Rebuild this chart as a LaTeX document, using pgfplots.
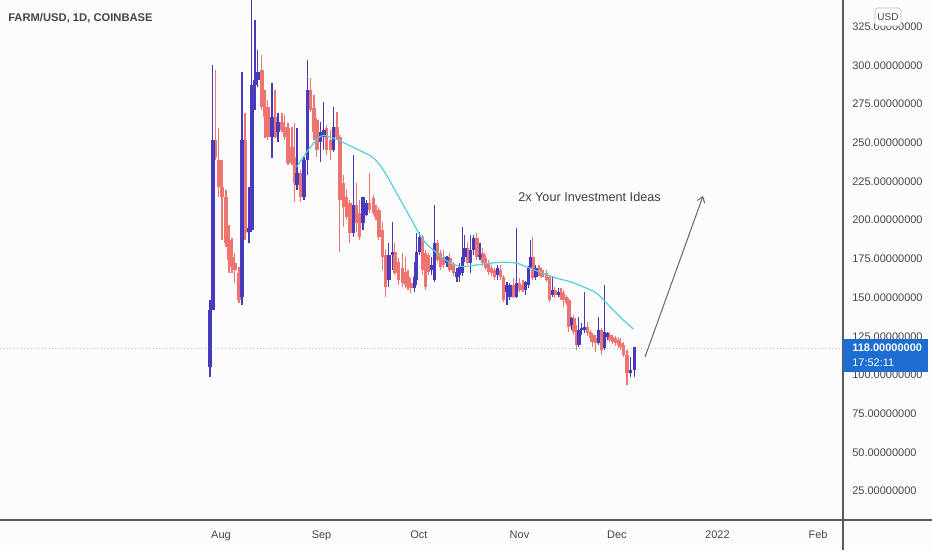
\documentclass[border=0pt]{standalone}
\usepackage{fontspec}
\setmainfont{Liberation Sans}
\usepackage{pgfplots}
\pgfplotsset{compat=1.18}
\usepackage{pgfplotstable}
\usetikzlibrary{arrows.meta}
\definecolor{upc}{RGB}{72,58,190}
\definecolor{dnc}{RGB}{238,116,112}
\definecolor{mac}{RGB}{86,206,220}
\definecolor{txt}{RGB}{70,70,70}
\definecolor{axc}{RGB}{90,90,90}
\definecolor{bg}{RGB}{252,252,252}
\definecolor{pricebox}{RGB}{30,110,210}

\pgfplotstableread{
d o h l c
-3.39 105.2 148.5 98.7 142.0
-2.47 142.0 300.3 142.0 251.8
6.47 150.4 295.7 145.2 251.8
8.63 192.4 221.4 185.3 195.0
9.55 193.7 342.0 192.4 287.3
10.48 287.3 329.3 271.2 290.6
11.40 290.6 310.0 286.0 295.7
15.72 253.7 288.6 240.2 266.7
17.57 257.0 269.3 250.5 263.4
23.42 222.7 259.6 219.5 230.5
25.58 215.0 240.8 213.0 238.9
26.72 238.9 303.5 229.2 284.1
30.72 250.5 263.4 237.6 257.0
31.74 253.7 276.4 245.4 258.3
34.73 245.4 273.1 244.1 260.2
40.77 191.7 242.1 189.1 209.8
43.76 198.2 214.3 193.7 215.0
44.90 203.4 213.0 202.8 211.1
51.77 161.4 185.3 156.8 177.5
52.79 177.5 198.8 167.8 179.5
59.57 156.2 173.0 153.6 163.3
60.31 161.4 191.7 158.1 179.5
61.11 179.5 192.4 177.5 189.1
65.02 167.8 176.2 164.6 171.1
65.85 161.4 209.8 160.1 185.3
69.65 172.4 176.8 169.8 176.2
72.73 163.3 169.1 160.1 166.5
73.50 164.6 172.4 160.1 169.8
74.36 165.9 195.6 164.0 176.2
75.19 176.2 190.4 173.0 182.0
76.95 172.4 190.4 165.9 180.8
77.87 180.8 190.4 177.5 188.5
79.82 176.2 185.3 174.3 177.5
85.15 164.6 171.1 161.4 169.1
88.14 153.6 160.1 145.2 158.1
89.06 150.4 159.4 148.5 158.1
91.12 150.4 195.0 149.7 159.4
93.90 154.9 160.5 151.7 160.1
94.70 158.1 170.4 156.2 169.8
95.32 169.8 187.2 169.1 176.2
97.07 163.3 171.1 161.4 169.1
102.10 151.7 163.3 150.4 154.9
104.07 151.7 156.2 150.4 153.6
108.07 132.3 137.5 129.1 136.8
110.32 119.4 137.5 118.1 129.1
111.25 129.1 133.6 125.8 130.4
112.11 129.1 153.6 127.1 131.0
116.33 120.7 137.5 119.4 129.1
118.12 117.4 158.1 116.1 127.8
119.05 124.5 127.8 122.6 127.1
126.25 101.3 111.6 98.7 103.2
127.49 103.2 116.1 98.7 118.0
}\uptab

\pgfplotstableread{
d o h l c
-1.76 251.8 297.0 238.9 240.8
-0.62 238.9 259.6 215.0 221.4
0.31 221.4 238.9 187.2 215.0
1.54 215.0 219.5 182.7 185.3
2.47 187.2 196.9 165.9 174.3
3.39 176.0 188.5 165.9 169.8
4.31 172.4 178.8 159.4 167.8
5.55 165.9 169.8 146.5 148.5
7.40 251.8 269.3 187.2 191.7
12.63 297.0 306.7 271.2 273.1
13.56 273.1 284.1 253.1 266.7
14.48 273.1 277.7 251.8 253.7
16.64 266.7 284.1 253.1 253.7
18.80 263.4 269.3 257.0 258.3
19.72 260.2 268.0 251.8 253.7
20.65 259.6 262.8 235.7 237.0
21.88 247.3 260.2 235.7 237.0
22.65 240.8 262.8 211.8 224.0
24.56 230.5 232.4 211.8 215.0
27.64 284.1 291.9 269.9 271.2
28.66 272.5 280.9 251.8 257.0
29.58 264.7 266.0 240.8 245.4
32.57 259.6 261.5 242.1 245.4
33.81 251.8 258.3 238.9 245.4
35.75 260.2 269.9 251.8 253.7
36.67 253.7 255.0 179.5 213.0
37.69 224.0 229.2 195.6 208.5
38.74 215.0 219.5 200.1 202.1
39.75 211.1 213.0 185.3 191.7
41.70 209.8 224.0 192.4 198.2
42.74 204.7 213.0 187.2 189.1
45.82 211.1 230.5 204.7 206.6
46.93 214.3 216.3 203.4 204.7
47.77 206.6 209.8 200.1 202.1
48.69 206.6 208.5 187.2 189.1
49.83 193.7 198.8 167.8 176.2
50.76 177.5 180.8 150.4 156.8
53.62 179.5 185.3 164.6 165.9
54.64 173.0 175.6 158.1 161.4
55.87 169.1 178.8 156.8 159.4
56.80 166.5 176.2 156.2 158.1
57.63 163.3 167.8 154.9 156.8
58.55 159.4 162.7 153.0 156.2
62.03 189.1 190.4 164.6 167.8
62.96 178.8 180.8 154.9 156.8
63.88 177.5 178.8 164.6 166.5
66.78 185.3 187.2 173.0 174.3
67.70 178.8 180.8 167.8 169.8
68.63 176.2 180.8 169.1 171.1
70.57 175.6 178.8 166.5 167.8
71.59 171.1 173.0 164.0 165.9
76.02 182.0 185.9 171.1 172.4
78.89 188.5 191.7 174.3 176.2
80.74 178.8 182.0 170.4 172.4
81.57 175.6 177.5 167.8 169.1
82.50 172.4 174.3 164.6 166.5
83.42 169.1 171.1 164.0 165.9
84.22 167.8 169.1 161.4 163.3
86.07 167.8 171.1 161.4 163.3
87.00 163.3 164.6 147.2 148.5
90.08 158.1 162.7 149.7 150.4
92.05 159.4 162.7 153.6 154.9
93.07 158.1 161.4 153.6 154.9
96.15 176.2 189.1 161.4 162.7
98.00 169.1 171.1 164.0 165.9
98.92 167.8 169.8 162.7 163.3
100.31 165.9 167.8 160.1 161.4
101.17 163.3 164.6 147.2 148.5
102.93 154.9 156.8 149.7 151.7
104.78 153.6 156.2 148.5 150.4
105.61 153.0 154.9 143.9 148.5
106.41 150.4 151.7 145.2 146.5
107.24 148.5 149.7 127.8 131.0
108.78 136.8 138.8 125.8 127.8
109.49 127.8 132.3 116.1 119.4
113.00 131.0 134.2 125.2 127.1
113.81 127.8 129.1 121.3 123.9
114.64 125.8 127.1 118.1 121.3
115.47 123.9 125.8 114.9 120.7
117.20 129.1 130.4 112.9 116.1
119.88 125.8 127.8 121.3 122.6
120.71 124.5 125.8 120.0 121.3
121.57 123.9 125.2 118.7 120.7
122.43 122.6 124.5 117.4 119.4
123.27 120.7 123.9 116.1 118.1
124.10 119.4 121.3 111.6 112.9
125.12 112.9 116.1 93.5 101.3
}\dntab

\pgfplotsset{
  candle/.style={only marks, mark=text, text mark={}, mark options={draw=none, fill=none},
    error bars/.cd, y dir=minus, y explicit, error mark=none,
    error bar style={line width=#1}},
}

\begin{document}
\begin{tikzpicture}
\path[use as bounding box, fill=bg] (0pt,-22.5pt) rectangle (699pt,390pt);
\begin{axis}[
  at={(0pt,0pt)}, anchor=south west,
  scale only axis, width=632.25pt, height=390pt,
  xmin=-68.1, xmax=191.7, ymin=6.33, ymax=342.25,
  axis line style={draw=none},
  major tick length=0pt,
  xtick={0,31,61,92,122,153,184},
  xticklabels={Aug,Sep,Oct,Nov,Dec,2022,Feb},
  xticklabel style={font=\fontsize{8.25}{10}\selectfont, text=txt, anchor=base, inner sep=0pt, yshift=-13.5pt},
  ytick={25,50,75,100,125,150,175,200,225,250,275,300,325},
  yticklabels={25.00000000,50.00000000,75.00000000,100.00000000,125.00000000,150.00000000,175.00000000,200.00000000,225.00000000,250.00000000,275.00000000,300.00000000,325.00000000},
  yticklabel pos=right,
  yticklabel style={font=\fontsize{8.25}{10}\selectfont, text=txt, anchor=west, inner sep=0pt, xshift=6.75pt},
  clip=true,
]
\draw[dotted, color=black!25, line width=0.6pt] (axis cs:-68.1,117.5) -- (axis cs:191.7,117.5);
% wicks
\addplot[dnc, candle=0.8pt]
  table[x=d, y=h, y error minus expr=\thisrow{h}-\thisrow{l}] {\dntab};
\addplot[upc, candle=0.8pt]
  table[x=d, y=h, y error minus expr=\thisrow{h}-\thisrow{l}] {\uptab};
% bodies
\addplot[dnc, candle=2.4pt]
  table[x=d, y=o, y error minus expr=\thisrow{o}-\thisrow{c}] {\dntab};
\addplot[upc, candle=2.4pt]
  table[x=d, y=c, y error minus expr=\thisrow{c}-\thisrow{o}] {\uptab};
% moving average
\addplot[mac, line width=0.9pt, mark=none, smooth] coordinates {
(23.3,234.3) (26.9,245.4) (30.5,254.0) (32.6,254.4) (36.1,251.8) (40.3,247.5)
(44.4,243.4) (46.8,240.5) (49.0,235.5) (51.5,227.5) (54.1,217.6) (58.2,202.3) (62.3,187.2) (66.5,178.8)
(70.6,172.4) (74.7,170.0) (78.8,171.1) (82.9,172.2) (87.0,172.8) (91.1,172.2)
(95.2,169.0) (99.3,165.7) (103.5,162.5) (107.6,160.3) (111.6,157.0) (115.8,152.8)
(119.9,144.1) (124.0,135.5) (127.1,129.7)
};
\end{axis}
\begin{scope}[x=0.75pt, y=-0.75pt, shift={(0pt,390pt)}]
\draw[axc, line width=1.1pt] (843,0) -- (843,550);
\draw[axc, line width=1.1pt] (0,520) -- (932,520);
\node[anchor=west, text=txt, font=\bfseries\fontsize{8.4}{10}\selectfont, inner sep=0pt] at (8,18) {FARM/USD, 1D, COINBASE};
\node[text=txt!90!black, font=\fontsize{9.5}{11}\selectfont, inner sep=0pt] at (589.5,197) {2x Your Investment Ideas};
\draw[black!60, line width=0.75pt, -{Straight Barb[length=4pt, width=6pt]}] (645,357) -- (703,196);
\fill[pricebox] (843,339) rectangle (928,372);
\node[anchor=west, text=white, font=\bfseries\fontsize{8.25}{10}\selectfont, inner sep=0pt] at (852,348) {118.00000000};
\node[anchor=west, text=white, font=\fontsize{8.25}{10}\selectfont, inner sep=0pt] at (852,363) {17:52:11};
\draw[black!25, fill=white, rounded corners=2pt, line width=0.5pt] (875,8) rectangle (901,26);
\node[text=txt, font=\fontsize{7.5}{9}\selectfont, inner sep=0pt] at (888,17) {USD};
\end{scope}
\end{tikzpicture}
\end{document}
